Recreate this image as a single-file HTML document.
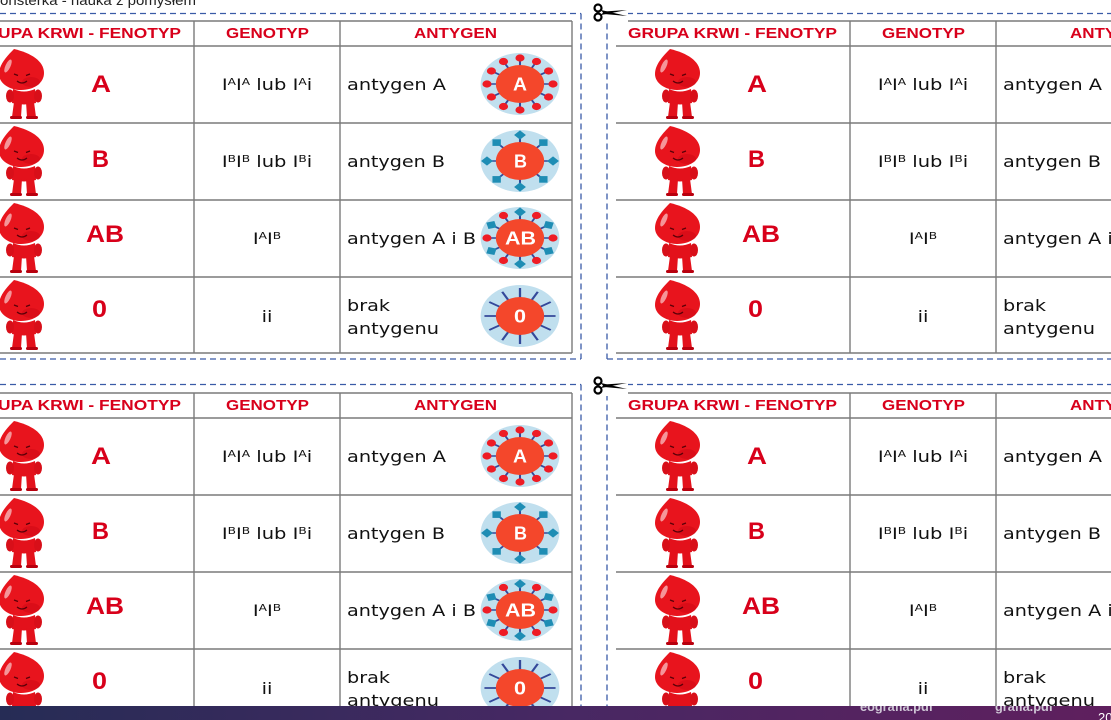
<!DOCTYPE html>
<html><head><meta charset="utf-8">
<style>
html,body{margin:0;padding:0;width:1111px;height:720px;overflow:hidden;background:#fff}
svg{display:block}
.ln{stroke:#7a7a7a;stroke-width:1.4;fill:none}
.h{font-family:"Liberation Sans",sans-serif;font-weight:bold;font-size:15px;fill:#d8001b}
.f{font-family:"Liberation Sans",sans-serif;font-weight:bold;font-size:24px;fill:#d8001a}
.t{font-family:"DejaVu Sans","Liberation Sans",sans-serif;font-size:16px;fill:#111}
.s{font-size:10px}
.w{font-family:"Liberation Sans",sans-serif;font-weight:bold;font-size:18px;fill:#fff}
.d{stroke:#3a5ba7;stroke-width:1.3;stroke-dasharray:6 4;fill:none}
</style></head>
<body>
<svg width="1111" height="720" viewBox="0 0 1111 720" xmlns="http://www.w3.org/2000/svg">
<defs>
<linearGradient id="bar" x1="0" x2="1" y1="0" y2="0">
<stop offset="0" stop-color="#262c55"/><stop offset="0.5" stop-color="#472863"/><stop offset="1" stop-color="#5f1f5e"/>
</linearGradient>
<clipPath id="bc"><rect x="0" y="706" width="1111" height="14"/></clipPath>
<g id="mas">
<path d="M15,0 C7,8 0,16 0,25 C0,34 10,41 22,41 C35,41 45,34 45,24 C45,12 32,4 15,0 Z" fill="#e8141d"/>
<ellipse cx="9" cy="17" rx="2.5" ry="7" fill="#fff" opacity=".55" transform="rotate(25 9 17)"/>
<ellipse cx="32" cy="33" rx="9" ry="5" fill="#b8000e" opacity=".3"/>
<path d="M15,25 l4,1.5 M31,25 l-4,1.5" stroke="#5a0008" stroke-width="1.3"/>
<path d="M18,32 q5,4 10,0" stroke="#5a0008" fill="none" stroke-width="1.2"/>
<path d="M14,40 Q25,45 36,40 L37,54 Q25,57 13,54 Z" fill="#e3111b"/>
<ellipse cx="11" cy="47" rx="4" ry="6.5" fill="#d80f19"/>
<ellipse cx="39" cy="47" rx="4" ry="6.5" fill="#d80f19"/>
<path d="M15,53 L23,53 L22,68 L13,68 Z M27,53 L35,53 L37,68 L28,68 Z" fill="#e3111b"/>
<rect x="11" y="67" width="12" height="3" rx="1.5" fill="#b8000e"/>
<rect x="27" y="67" width="12" height="3" rx="1.5" fill="#b8000e"/>
</g>
<g id="agA">
<circle r="31" fill="#c0dfee"/>
<g stroke="#34489a" stroke-width="1.6">
<line x2="26" y2="0"/><line x2="22.5" y2="13"/><line x2="13" y2="22.5"/><line x2="0" y2="26"/><line x2="-13" y2="22.5"/><line x2="-22.5" y2="13"/><line x2="-26" y2="0"/><line x2="-22.5" y2="-13"/><line x2="-13" y2="-22.5"/><line x2="0" y2="-26"/><line x2="13" y2="-22.5"/><line x2="22.5" y2="-13"/>
</g>
<g fill="#ee1c25">
<circle cx="26" cy="0" r="3.6"/><circle cx="22.5" cy="13" r="3.6"/><circle cx="13" cy="22.5" r="3.6"/><circle cx="0" cy="26" r="3.6"/><circle cx="-13" cy="22.5" r="3.6"/><circle cx="-22.5" cy="13" r="3.6"/><circle cx="-26" cy="0" r="3.6"/><circle cx="-22.5" cy="-13" r="3.6"/><circle cx="-13" cy="-22.5" r="3.6"/><circle cx="0" cy="-26" r="3.6"/><circle cx="13" cy="-22.5" r="3.6"/><circle cx="22.5" cy="-13" r="3.6"/>
</g>
<circle r="19" fill="#f4472b"/>
</g>
<g id="agB">
<circle r="31" fill="#c0dfee"/>
<g stroke="#34489a" stroke-width="1.6">
<line x2="26" y2="0"/><line x2="18.4" y2="18.4"/><line x2="0" y2="26"/><line x2="-18.4" y2="18.4"/><line x2="-26" y2="0"/><line x2="-18.4" y2="-18.4"/><line x2="0" y2="-26"/><line x2="18.4" y2="-18.4"/>
</g>
<g fill="#1e8db4">
<rect x="-3.3" y="-3.3" width="6.6" height="6.6" transform="rotate(0) translate(26,0) rotate(45)"/>
<rect x="-3.3" y="-3.3" width="6.6" height="6.6" transform="rotate(45) translate(26,0) rotate(45)"/>
<rect x="-3.3" y="-3.3" width="6.6" height="6.6" transform="rotate(90) translate(26,0) rotate(45)"/>
<rect x="-3.3" y="-3.3" width="6.6" height="6.6" transform="rotate(135) translate(26,0) rotate(45)"/>
<rect x="-3.3" y="-3.3" width="6.6" height="6.6" transform="rotate(180) translate(26,0) rotate(45)"/>
<rect x="-3.3" y="-3.3" width="6.6" height="6.6" transform="rotate(225) translate(26,0) rotate(45)"/>
<rect x="-3.3" y="-3.3" width="6.6" height="6.6" transform="rotate(270) translate(26,0) rotate(45)"/>
<rect x="-3.3" y="-3.3" width="6.6" height="6.6" transform="rotate(315) translate(26,0) rotate(45)"/>
</g>
<circle r="19" fill="#f4472b"/>
</g>
<g id="agAB">
<circle r="31" fill="#c0dfee"/>
<g stroke="#34489a" stroke-width="1.6">
<line x2="26" y2="0"/><line x2="22.5" y2="13"/><line x2="13" y2="22.5"/><line x2="0" y2="26"/><line x2="-13" y2="22.5"/><line x2="-22.5" y2="13"/><line x2="-26" y2="0"/><line x2="-22.5" y2="-13"/><line x2="-13" y2="-22.5"/><line x2="0" y2="-26"/><line x2="13" y2="-22.5"/><line x2="22.5" y2="-13"/>
</g>
<g fill="#ee1c25">
<circle cx="26" cy="0" r="3.6"/><circle cx="13" cy="22.5" r="3.6"/><circle cx="-13" cy="22.5" r="3.6"/><circle cx="-26" cy="0" r="3.6"/><circle cx="-13" cy="-22.5" r="3.6"/><circle cx="13" cy="-22.5" r="3.6"/>
</g>
<g fill="#1e8db4">
<rect x="-3.3" y="-3.3" width="6.6" height="6.6" transform="rotate(30) translate(26,0) rotate(45)"/>
<rect x="-3.3" y="-3.3" width="6.6" height="6.6" transform="rotate(90) translate(26,0) rotate(45)"/>
<rect x="-3.3" y="-3.3" width="6.6" height="6.6" transform="rotate(150) translate(26,0) rotate(45)"/>
<rect x="-3.3" y="-3.3" width="6.6" height="6.6" transform="rotate(210) translate(26,0) rotate(45)"/>
<rect x="-3.3" y="-3.3" width="6.6" height="6.6" transform="rotate(270) translate(26,0) rotate(45)"/>
<rect x="-3.3" y="-3.3" width="6.6" height="6.6" transform="rotate(330) translate(26,0) rotate(45)"/>
</g>
<circle r="19" fill="#f4472b"/>
</g>
<g id="agO">
<circle r="31" fill="#c0dfee"/>
<g stroke="#34489a" stroke-width="1.8">
<line x2="28" y2="0"/><line x2="24.2" y2="14"/><line x2="14" y2="24.2"/><line x2="0" y2="28"/><line x2="-14" y2="24.2"/><line x2="-24.2" y2="14"/><line x2="-28" y2="0"/><line x2="-24.2" y2="-14"/><line x2="-14" y2="-24.2"/><line x2="0" y2="-28"/><line x2="14" y2="-24.2"/><line x2="24.2" y2="-14"/>
</g>
<circle r="19" fill="#f4472b"/>
</g>
<g id="sc">
<circle cx="5" cy="5" r="3.5" fill="none" stroke="#000" stroke-width="2.2"/>
<circle cx="5" cy="14" r="3.5" fill="none" stroke="#000" stroke-width="2.2"/>
<path d="M8,7 L34,13 L11,11 Z" fill="#000"/>
<path d="M8,12 L34,7 L11,8.5 Z" fill="#000"/>
</g>
</defs>

<rect width="1111" height="720" fill="#fff"/>

<text x="0" y="5" font-family="Liberation Sans, sans-serif" font-size="14" fill="#222" textLength="196" lengthAdjust="spacingAndGlyphs">onsterka - nauka z pomysłem</text>

<path class="d" d="M0,13.5H581 M581,13.5V359 M0,359H581 M607,13.5H1111 M607,13.5V359 M607,359H1111 M0,384.5H581 M581,384.5V720 M607,384.5H1111 M607,384.5V720"/>

<!-- PANEL TOP-LEFT -->
<g transform="translate(0,0)">
<path class="ln" d="M-40,21H572M-40,46H572M-40,123H572M-40,200H572M-40,277H572M-40,353H572M194,21V353M340,21V353M572,21V353"/>
<text class="h" x="-28" y="38" textLength="209" lengthAdjust="spacingAndGlyphs">GRUPA KRWI - FENOTYP</text>
<text class="h" x="226" y="38" textLength="83" lengthAdjust="spacingAndGlyphs">GENOTYP</text>
<text class="h" x="414" y="38" textLength="83" lengthAdjust="spacingAndGlyphs">ANTYGEN</text>
<use href="#mas" x="-1" y="49"/><use href="#mas" x="-1" y="126"/><use href="#mas" x="-1" y="203"/><use href="#mas" x="-1" y="280"/>
<text class="f" x="91" y="92" textLength="20" lengthAdjust="spacingAndGlyphs">A</text>
<text class="f" x="92" y="167" textLength="17" lengthAdjust="spacingAndGlyphs">B</text>
<text class="f" x="86" y="242" textLength="38" lengthAdjust="spacingAndGlyphs">AB</text>
<text class="f" x="92" y="317" textLength="15" lengthAdjust="spacingAndGlyphs">0</text>
<g transform="translate(267,90) scale(1.22,1)"><text class="t" text-anchor="middle">I<tspan class="s" dy="-5">A</tspan><tspan dy="5">I</tspan><tspan class="s" dy="-5">A</tspan><tspan dy="5"> lub I</tspan><tspan class="s" dy="-5">A</tspan><tspan dy="5">i</tspan></text></g>
<g transform="translate(267,167) scale(1.22,1)"><text class="t" text-anchor="middle">I<tspan class="s" dy="-5">B</tspan><tspan dy="5">I</tspan><tspan class="s" dy="-5">B</tspan><tspan dy="5"> lub I</tspan><tspan class="s" dy="-5">B</tspan><tspan dy="5">i</tspan></text></g>
<g transform="translate(267,244) scale(1.22,1)"><text class="t" text-anchor="middle">I<tspan class="s" dy="-5">A</tspan><tspan dy="5">I</tspan><tspan class="s" dy="-5">B</tspan></text></g>
<g transform="translate(267,322) scale(1.22,1)"><text class="t" text-anchor="middle">ii</text></g>
<text class="t" x="347" y="90" textLength="99" lengthAdjust="spacingAndGlyphs">antygen A</text>
<text class="t" x="347" y="167" textLength="98" lengthAdjust="spacingAndGlyphs">antygen B</text>
<text class="t" x="347" y="244" textLength="129" lengthAdjust="spacingAndGlyphs">antygen A i B</text>
<text class="t" x="347" y="311" textLength="43" lengthAdjust="spacingAndGlyphs">brak</text>
<text class="t" x="347" y="334" textLength="92" lengthAdjust="spacingAndGlyphs">antygenu</text>
<use href="#agA" transform="translate(520,84) scale(1.27,1)"/>
<use href="#agB" transform="translate(520,161) scale(1.27,1)"/>
<use href="#agAB" transform="translate(520,238) scale(1.27,1)"/>
<use href="#agO" transform="translate(520,316) scale(1.27,1)"/>
<text class="w" x="513" y="90.5" textLength="14" lengthAdjust="spacingAndGlyphs">A</text>
<text class="w" x="514" y="167.5" textLength="13" lengthAdjust="spacingAndGlyphs">B</text>
<text class="w" x="505" y="244.5" textLength="31" lengthAdjust="spacingAndGlyphs">AB</text>
<text class="w" x="514" y="322.5" textLength="12" lengthAdjust="spacingAndGlyphs">0</text>
</g>

<!-- PANEL TOP-RIGHT -->
<g transform="translate(656,0)">
<path class="ln" d="M-40,21H572M-40,46H572M-40,123H572M-40,200H572M-40,277H572M-40,353H572M194,21V353M340,21V353M572,21V353"/>
<text class="h" x="-28" y="38" textLength="209" lengthAdjust="spacingAndGlyphs">GRUPA KRWI - FENOTYP</text>
<text class="h" x="226" y="38" textLength="83" lengthAdjust="spacingAndGlyphs">GENOTYP</text>
<text class="h" x="414" y="38" textLength="83" lengthAdjust="spacingAndGlyphs">ANTYGEN</text>
<use href="#mas" x="-1" y="49"/><use href="#mas" x="-1" y="126"/><use href="#mas" x="-1" y="203"/><use href="#mas" x="-1" y="280"/>
<text class="f" x="91" y="92" textLength="20" lengthAdjust="spacingAndGlyphs">A</text>
<text class="f" x="92" y="167" textLength="17" lengthAdjust="spacingAndGlyphs">B</text>
<text class="f" x="86" y="242" textLength="38" lengthAdjust="spacingAndGlyphs">AB</text>
<text class="f" x="92" y="317" textLength="15" lengthAdjust="spacingAndGlyphs">0</text>
<g transform="translate(267,90) scale(1.22,1)"><text class="t" text-anchor="middle">I<tspan class="s" dy="-5">A</tspan><tspan dy="5">I</tspan><tspan class="s" dy="-5">A</tspan><tspan dy="5"> lub I</tspan><tspan class="s" dy="-5">A</tspan><tspan dy="5">i</tspan></text></g>
<g transform="translate(267,167) scale(1.22,1)"><text class="t" text-anchor="middle">I<tspan class="s" dy="-5">B</tspan><tspan dy="5">I</tspan><tspan class="s" dy="-5">B</tspan><tspan dy="5"> lub I</tspan><tspan class="s" dy="-5">B</tspan><tspan dy="5">i</tspan></text></g>
<g transform="translate(267,244) scale(1.22,1)"><text class="t" text-anchor="middle">I<tspan class="s" dy="-5">A</tspan><tspan dy="5">I</tspan><tspan class="s" dy="-5">B</tspan></text></g>
<g transform="translate(267,322) scale(1.22,1)"><text class="t" text-anchor="middle">ii</text></g>
<text class="t" x="347" y="90" textLength="99" lengthAdjust="spacingAndGlyphs">antygen A</text>
<text class="t" x="347" y="167" textLength="98" lengthAdjust="spacingAndGlyphs">antygen B</text>
<text class="t" x="347" y="244" textLength="129" lengthAdjust="spacingAndGlyphs">antygen A i B</text>
<text class="t" x="347" y="311" textLength="43" lengthAdjust="spacingAndGlyphs">brak</text>
<text class="t" x="347" y="334" textLength="92" lengthAdjust="spacingAndGlyphs">antygenu</text>
</g>

<!-- PANEL BOTTOM-LEFT -->
<g transform="translate(0,372)">
<path class="ln" d="M-40,21H572M-40,46H572M-40,123H572M-40,200H572M-40,277H572M-40,353H572M194,21V353M340,21V353M572,21V353"/>
<text class="h" x="-28" y="38" textLength="209" lengthAdjust="spacingAndGlyphs">GRUPA KRWI - FENOTYP</text>
<text class="h" x="226" y="38" textLength="83" lengthAdjust="spacingAndGlyphs">GENOTYP</text>
<text class="h" x="414" y="38" textLength="83" lengthAdjust="spacingAndGlyphs">ANTYGEN</text>
<use href="#mas" x="-1" y="49"/><use href="#mas" x="-1" y="126"/><use href="#mas" x="-1" y="203"/><use href="#mas" x="-1" y="280"/>
<text class="f" x="91" y="92" textLength="20" lengthAdjust="spacingAndGlyphs">A</text>
<text class="f" x="92" y="167" textLength="17" lengthAdjust="spacingAndGlyphs">B</text>
<text class="f" x="86" y="242" textLength="38" lengthAdjust="spacingAndGlyphs">AB</text>
<text class="f" x="92" y="317" textLength="15" lengthAdjust="spacingAndGlyphs">0</text>
<g transform="translate(267,90) scale(1.22,1)"><text class="t" text-anchor="middle">I<tspan class="s" dy="-5">A</tspan><tspan dy="5">I</tspan><tspan class="s" dy="-5">A</tspan><tspan dy="5"> lub I</tspan><tspan class="s" dy="-5">A</tspan><tspan dy="5">i</tspan></text></g>
<g transform="translate(267,167) scale(1.22,1)"><text class="t" text-anchor="middle">I<tspan class="s" dy="-5">B</tspan><tspan dy="5">I</tspan><tspan class="s" dy="-5">B</tspan><tspan dy="5"> lub I</tspan><tspan class="s" dy="-5">B</tspan><tspan dy="5">i</tspan></text></g>
<g transform="translate(267,244) scale(1.22,1)"><text class="t" text-anchor="middle">I<tspan class="s" dy="-5">A</tspan><tspan dy="5">I</tspan><tspan class="s" dy="-5">B</tspan></text></g>
<g transform="translate(267,322) scale(1.22,1)"><text class="t" text-anchor="middle">ii</text></g>
<text class="t" x="347" y="90" textLength="99" lengthAdjust="spacingAndGlyphs">antygen A</text>
<text class="t" x="347" y="167" textLength="98" lengthAdjust="spacingAndGlyphs">antygen B</text>
<text class="t" x="347" y="244" textLength="129" lengthAdjust="spacingAndGlyphs">antygen A i B</text>
<text class="t" x="347" y="311" textLength="43" lengthAdjust="spacingAndGlyphs">brak</text>
<text class="t" x="347" y="334" textLength="92" lengthAdjust="spacingAndGlyphs">antygenu</text>
<use href="#agA" transform="translate(520,84) scale(1.27,1)"/>
<use href="#agB" transform="translate(520,161) scale(1.27,1)"/>
<use href="#agAB" transform="translate(520,238) scale(1.27,1)"/>
<use href="#agO" transform="translate(520,316) scale(1.27,1)"/>
<text class="w" x="513" y="90.5" textLength="14" lengthAdjust="spacingAndGlyphs">A</text>
<text class="w" x="514" y="167.5" textLength="13" lengthAdjust="spacingAndGlyphs">B</text>
<text class="w" x="505" y="244.5" textLength="31" lengthAdjust="spacingAndGlyphs">AB</text>
<text class="w" x="514" y="322.5" textLength="12" lengthAdjust="spacingAndGlyphs">0</text>
</g>

<!-- PANEL BOTTOM-RIGHT -->
<g transform="translate(656,372)">
<path class="ln" d="M-40,21H572M-40,46H572M-40,123H572M-40,200H572M-40,277H572M-40,353H572M194,21V353M340,21V353M572,21V353"/>
<text class="h" x="-28" y="38" textLength="209" lengthAdjust="spacingAndGlyphs">GRUPA KRWI - FENOTYP</text>
<text class="h" x="226" y="38" textLength="83" lengthAdjust="spacingAndGlyphs">GENOTYP</text>
<text class="h" x="414" y="38" textLength="83" lengthAdjust="spacingAndGlyphs">ANTYGEN</text>
<use href="#mas" x="-1" y="49"/><use href="#mas" x="-1" y="126"/><use href="#mas" x="-1" y="203"/><use href="#mas" x="-1" y="280"/>
<text class="f" x="91" y="92" textLength="20" lengthAdjust="spacingAndGlyphs">A</text>
<text class="f" x="92" y="167" textLength="17" lengthAdjust="spacingAndGlyphs">B</text>
<text class="f" x="86" y="242" textLength="38" lengthAdjust="spacingAndGlyphs">AB</text>
<text class="f" x="92" y="317" textLength="15" lengthAdjust="spacingAndGlyphs">0</text>
<g transform="translate(267,90) scale(1.22,1)"><text class="t" text-anchor="middle">I<tspan class="s" dy="-5">A</tspan><tspan dy="5">I</tspan><tspan class="s" dy="-5">A</tspan><tspan dy="5"> lub I</tspan><tspan class="s" dy="-5">A</tspan><tspan dy="5">i</tspan></text></g>
<g transform="translate(267,167) scale(1.22,1)"><text class="t" text-anchor="middle">I<tspan class="s" dy="-5">B</tspan><tspan dy="5">I</tspan><tspan class="s" dy="-5">B</tspan><tspan dy="5"> lub I</tspan><tspan class="s" dy="-5">B</tspan><tspan dy="5">i</tspan></text></g>
<g transform="translate(267,244) scale(1.22,1)"><text class="t" text-anchor="middle">I<tspan class="s" dy="-5">A</tspan><tspan dy="5">I</tspan><tspan class="s" dy="-5">B</tspan></text></g>
<g transform="translate(267,322) scale(1.22,1)"><text class="t" text-anchor="middle">ii</text></g>
<text class="t" x="347" y="90" textLength="99" lengthAdjust="spacingAndGlyphs">antygen A</text>
<text class="t" x="347" y="167" textLength="98" lengthAdjust="spacingAndGlyphs">antygen B</text>
<text class="t" x="347" y="244" textLength="129" lengthAdjust="spacingAndGlyphs">antygen A i B</text>
<text class="t" x="347" y="311" textLength="43" lengthAdjust="spacingAndGlyphs">brak</text>
<text class="t" x="347" y="334" textLength="92" lengthAdjust="spacingAndGlyphs">antygenu</text>
</g>

<rect x="592" y="2" width="36" height="21" fill="#fff"/>
<use href="#sc" x="593" y="3"/>
<rect x="592" y="375" width="36" height="21" fill="#fff"/>
<use href="#sc" x="593" y="376"/>

<rect x="0" y="706" width="1111" height="14" fill="url(#bar)"/>
<g clip-path="url(#bc)" font-family="Liberation Sans, sans-serif" font-weight="bold" font-size="13">
<text x="860" y="711" fill="#cfc6d6" textLength="73" lengthAdjust="spacingAndGlyphs">eografia.pdf</text>
<text x="995" y="711" fill="#cfc6d6" textLength="58" lengthAdjust="spacingAndGlyphs">grafia.pdf</text>
<text x="1098" y="722" fill="#ffffff" font-weight="normal">20</text>
</g>
</svg>
</body></html>
